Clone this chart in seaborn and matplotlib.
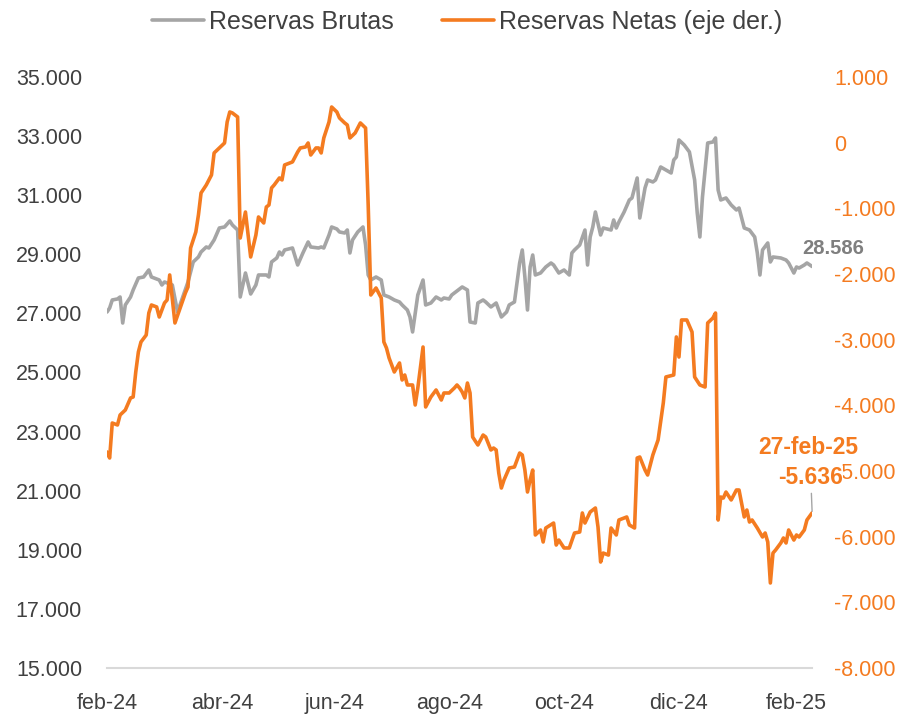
import matplotlib
matplotlib.use("Agg")
import matplotlib.pyplot as plt
import matplotlib.ticker as mticker
import seaborn as sns

sns.set_theme(style="white")
plt.rcParams["font.family"] = ["Liberation Sans", "DejaVu Sans"]

GRIS = "#A5A5A5"
NARANJA = "#F47B20"
TEXTO = "#404040"

# dia habil (0 = primer dato de feb-24) y reservas brutas (USD mill., eje izq.)
dia_brutas = [
    0, 1, 2, 4, 5, 6, 7, 9, 10, 12,
    14, 16, 17, 18, 20, 21, 22, 23, 25, 27,
    29, 31, 33, 35, 36, 38, 39, 41, 43, 45,
    47, 48, 50, 51, 53, 55, 57, 58, 61, 62,
    63, 65, 66, 67, 68, 71, 73, 75, 77, 78,
    81, 82, 83, 85, 86, 88, 89, 91, 92, 93,
    94, 96, 98, 99, 100, 101, 103, 105, 106, 108,
    110, 112, 113, 115, 116, 117, 119, 121, 122, 124,
    126, 128, 129, 131, 132, 133, 135, 136, 138, 139,
    141, 142, 144, 145, 147, 149, 150, 151, 153, 154,
    156, 158, 159, 160, 161, 162, 163, 164, 166, 168,
    170, 171, 173, 175, 177, 178, 179, 181, 183, 184,
    185, 186, 187, 189, 190, 193, 194, 195, 196, 198,
    200, 201, 203, 204, 206, 207, 209, 210, 212, 214,
    216, 217, 218, 219, 221, 223, 225, 226, 227, 228,
    230, 232, 233, 234, 235, 237, 239, 241, 242, 243,
    244, 246, 248, 249, 250, 251, 253, 254, 255, 258,
    260, 261, 263, 264, 265, 267, 268, 270,
]
brutas = [
    27048, 27183, 27454, 27488, 27555, 26675, 27285, 27555, 27792, 28198,
    28232, 28469, 28232, 28198, 28130, 27961, 28063, 28029, 27961, 27048,
    27555, 28063, 28740, 28909, 29078, 29247, 29213, 29484, 29890, 29924,
    30127, 29992, 29822, 27555, 28367, 27657, 27961, 28300, 28300, 28232,
    28740, 28875, 29078, 28976, 29146, 29213, 28638, 29044, 29416, 29247,
    29213, 29247, 29213, 29653, 29924, 29856, 29755, 29721, 29822, 29044,
    29484, 29755, 29924, 29315, 28300, 28130, 28232, 28130, 27623, 27555,
    27454, 27386, 27285, 27115, 26878, 26371, 27623, 28130, 27285, 27352,
    27555, 27454, 27521, 27488, 27623, 27690, 27826, 27894, 27792, 26709,
    26675, 27352, 27454, 27386, 27217, 27352, 27115, 26878, 27048, 27285,
    27386, 28706, 29146, 28232, 27115, 28570, 28976, 28300, 28367, 28570,
    28706, 28638, 28367, 28469, 28300, 29044, 29146, 29315, 29822, 28638,
    29586, 29924, 30432, 29653, 29890, 29822, 30161, 29890, 30093, 30432,
    30838, 30905, 31582, 30229, 31244, 31514, 31447, 31514, 31954, 31853,
    31751, 32191, 32293, 32868, 32699, 32462, 31514, 30398, 29586, 30939,
    32766, 32800, 32936, 31176, 30838, 30905, 30669, 30499, 30567, 30229,
    29890, 29822, 29586, 29044, 28300, 29146, 29383, 28740, 28909, 28875,
    28807, 28706, 28367, 28570, 28536, 28638, 28706, 28586,
]

# reservas netas (USD mill., eje der.)
dia_netas = [
    0, 1, 2, 4, 5, 7, 9, 10, 11, 12,
    13, 15, 16, 17, 19, 20, 22, 23, 24, 26,
    28, 30, 31, 32, 34, 35, 36, 38, 40, 41,
    43, 45, 46, 47, 48, 50, 51, 53, 55, 57,
    58, 60, 61, 62, 63, 64, 66, 67, 68, 71,
    73, 74, 76, 77, 78, 80, 81, 82, 83, 85,
    86, 88, 89, 91, 92, 93, 95, 97, 99, 100,
    101, 103, 105, 106, 107, 108, 110, 112, 113, 114,
    115, 117, 118, 119, 121, 122, 124, 126, 128, 129,
    131, 133, 134, 135, 136, 137, 138, 139, 140, 142,
    144, 145, 147, 148, 149, 150, 151, 152, 154, 156,
    158, 159, 160, 161, 162, 163, 164, 166, 167, 168,
    171, 172, 173, 175, 177, 179, 181, 182, 183, 185,
    187, 188, 189, 190, 192, 193, 195, 196, 198, 199,
    200, 202, 203, 204, 206, 207, 209, 211, 213, 214,
    217, 218, 219, 220, 222, 224, 225, 227, 229, 230,
    232, 233, 234, 235, 236, 237, 239, 241, 242, 244,
    245, 246, 247, 249, 251, 252, 253, 254, 255, 256,
    258, 259, 260, 261, 263, 264, 265, 267, 268, 270,
]
netas = [
    -4710, -4802, -4269, -4299, -4147, -4071, -3888, -3873, -3492, -3188,
    -3035, -2929, -2594, -2472, -2502, -2655, -2441, -2396, -2015, -2746,
    -2518, -2289, -2198, -1604, -1360, -1101, -766, -645, -492, -157,
    -81, -5, 315, 467, 452, 391, -1452, -1056, -1741, -1406,
    -1132, -1223, -980, -949, -690, -645, -538, -568, -340, -294,
    -142, -81, -66, -5, -188, -81, -81, -157, 71, 315,
    543, 467, 376, 300, 269, 71, 147, 300, 223, -949,
    -2320, -2213, -2365, -3035, -3127, -3279, -3492, -3355, -3614, -3538,
    -3690, -3690, -3995, -3736, -3112, -4025, -3873, -3766, -3919, -3812,
    -3812, -3736, -3690, -3736, -3797, -3888, -3660, -3812, -4482, -4604,
    -4452, -4482, -4680, -4650, -4680, -5030, -5259, -5137, -4954, -4939,
    -4726, -4756, -4985, -5320, -5137, -4985, -5974, -5898, -6081, -5868,
    -5792, -6127, -6051, -6172, -6172, -5944, -5929, -5639, -5792, -5624,
    -5563, -5853, -6386, -6249, -6280, -5868, -5974, -5746, -5716, -5700,
    -5822, -5868, -4802, -4787, -4985, -5061, -4756, -4528, -3964, -3568,
    -3538, -2959, -3264, -2700, -2700, -2883, -3568, -3690, -3721, -2746,
    -2670, -2594, -5746, -5396, -5411, -5320, -5441, -5289, -5289, -5700,
    -5594, -5777, -5746, -5868, -6005, -5944, -6081, -6705, -6249, -6203,
    -6096, -6020, -6096, -5898, -6051, -5974, -6005, -5898, -5746, -5636,
]

tick_dias = [0, 44, 87, 131, 175, 219, 264]
tick_labels = ["feb-24", "abr-24", "jun-24", "ago-24", "oct-24", "dic-24", "feb-25"]
ultima_fecha = "27-feb-25"


def miles(v, _pos=None):
    return f"{v:,.0f}".replace(",", ".")


fig = plt.figure(figsize=(9.04, 7.16), dpi=100)
ax = fig.add_axes([0.1184, 0.067, 0.78, 0.8255])
ax2 = ax.twinx()

sns.lineplot(x=dia_brutas, y=brutas, ax=ax, color=GRIS, linewidth=2.6,
             label="Reservas Brutas", legend=False)
sns.lineplot(x=dia_netas, y=netas, ax=ax2, color=NARANJA, linewidth=2.6,
             label="Reservas Netas (eje der.)", legend=False)

ax.set_xlim(0, 270)
ax.set_ylim(15000, 35000)
ax2.set_ylim(-8000, 1000)
ax.set_yticks(range(15000, 35001, 2000))
ax2.set_yticks(range(-8000, 1001, 1000))
ax.yaxis.set_major_formatter(mticker.FuncFormatter(miles))
ax2.yaxis.set_major_formatter(mticker.FuncFormatter(miles))
ax.set_xticks(tick_dias)
ax.set_xticklabels(tick_labels)

for a in (ax, ax2):
    for s in ("top", "left", "right", "bottom"):
        a.spines[s].set_visible(False)
    a.grid(False)
ax.spines["bottom"].set_visible(True)
ax.spines["bottom"].set_color("#D9D9D9")
ax.spines["bottom"].set_linewidth(1.5)

ax.tick_params(axis="x", length=5, width=1.2, color="#D9D9D9", pad=13,
               labelsize=15.5, labelcolor=TEXTO)
ax.tick_params(axis="y", length=0, pad=18, labelsize=15.5, labelcolor=TEXTO)
ax2.tick_params(axis="y", length=0, pad=16, labelsize=15.5, labelcolor=NARANJA)
ax.set_xlabel("")
ax.set_ylabel("")
ax2.set_ylabel("")

# etiquetas del ultimo dato
ax.annotate(miles(brutas[-1]), xy=(dia_brutas[-1], brutas[-1]),
            xytext=(15, 13), textcoords="offset points", ha="center",
            va="center", fontsize=14.5, fontweight="bold", color="#7F7F7F")
ax2.annotate(miles(netas[-1]), xy=(dia_netas[-1], netas[-1]),
             xytext=(-1, 17), textcoords="offset points", ha="center",
             va="bottom", fontsize=16.5, fontweight="bold", color=NARANJA,
             bbox=dict(boxstyle="square,pad=0.0", fc="white", ec="none"),
             arrowprops=dict(arrowstyle="-", color="#A5A5A5", lw=1,
                             shrinkA=3, shrinkB=1))
ax2.annotate(ultima_fecha, xy=(dia_netas[-1], netas[-1]),
             xytext=(-3, 39), textcoords="offset points", ha="center",
             va="bottom", fontsize=16.5, fontweight="bold", color=NARANJA)

h1, l1 = ax.get_legend_handles_labels()
h2, l2 = ax2.get_legend_handles_labels()
fig.legend(h1 + h2, l1 + l2, loc="center", bbox_to_anchor=(0.5166, 0.969),
           ncol=2, frameon=False, handlelength=2.1, handletextpad=0.2,
           columnspacing=1.9, fontsize=18, labelcolor=TEXTO)

fig.savefig("out.png", dpi=100)
